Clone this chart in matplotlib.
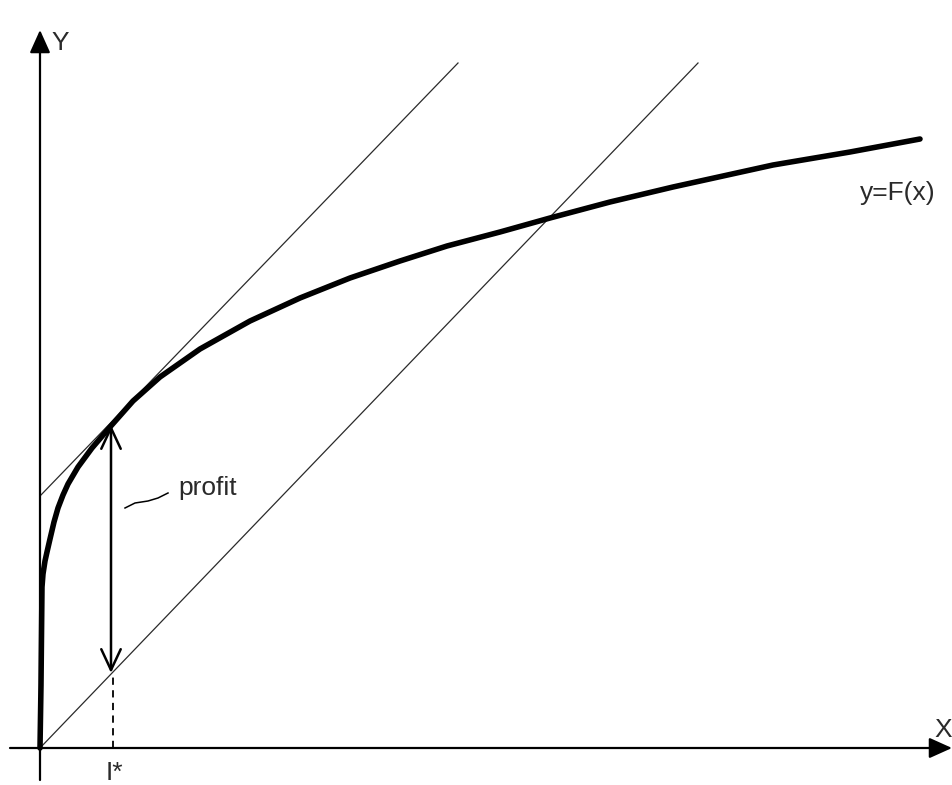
import numpy as np
import matplotlib
matplotlib.use('Agg')
import matplotlib.pyplot as plt

# curve y=F(x) (origin at the axes corner, pixel units)
curve_x = [0, 1, 2, 3, 5, 7, 10, 14, 18, 23, 28, 38, 52, 70, 93, 120, 160, 210, 260, 310, 360, 407, 460, 510, 570, 633, 733, 810, 880]
curve_y = [0, 63, 161, 174, 187, 196, 209, 226, 240, 253, 264, 281, 300, 321, 347, 371, 399, 427, 450, 470, 487, 502, 516, 530, 546, 561, 583, 596, 609]

# the two parallel straight lines
tangent_x = [0, 418]
tangent_y = [252, 685]
cost_x = [0, 658]
cost_y = [0, 685]

# optimum and profit arrow
i_star = 71
profit_low = 75
profit_high = 323

# leader from the word "profit" to the arrow
leader_x = [85, 95, 108, 118, 128]
leader_y = [240, 245, 247, 250, 255]

ink = '#2a2a2a'
plt.rcParams['font.family'] = ['Liberation Sans', 'DejaVu Sans']

fig = plt.figure(figsize=(9.53, 7.85), dpi=100)
ax = fig.add_axes([0, 0, 1, 1])
ax.set_xlim(-40, 913)
ax.set_ylim(-37, 748)
ax.axis('off')

# axes with arrows
axis_arrow = dict(arrowstyle='-|>,head_length=1.0,head_width=0.45', mutation_scale=14,
                  color='black', lw=1.6, shrinkA=0, shrinkB=0)
ax.annotate('', xy=(912, 0), xytext=(-30, 0), arrowprops=axis_arrow)
ax.annotate('', xy=(0, 718), xytext=(0, -32), arrowprops=axis_arrow)

# straight lines
ax.plot(tangent_x, tangent_y, color=ink, lw=0.9)
ax.plot(cost_x, cost_y, color=ink, lw=0.9)

# production curve
ax.plot(curve_x, curve_y, color='black', lw=4.0, solid_capstyle='round', solid_joinstyle='round')

# profit arrow
ax.annotate('', xy=(i_star, profit_high), xytext=(i_star, profit_low),
            arrowprops=dict(arrowstyle='<->,head_length=0.75,head_width=0.35', mutation_scale=20,
                            color='black', lw=1.8, shrinkA=0, shrinkB=0))
ax.plot([i_star + 2, i_star + 2], [0, profit_low], color='black', lw=1.3, ls=(0, (4, 3)))
ax.plot(leader_x, leader_y, color='black', lw=1.1)

# labels
fs = 19
ax.text(11, 698, 'Y', fontsize=fs, color=ink, ha='left', va='baseline')
ax.text(894, 11, 'X', fontsize=fs, color=ink, ha='left', va='baseline')
ax.text(66, -32, 'I*', fontsize=fs, color=ink, ha='left', va='baseline')
ax.text(820, 548, 'y=F(x)', fontsize=fs, color=ink, ha='left', va='baseline')
ax.text(138, 253, 'profit', fontsize=fs, color=ink, ha='left', va='baseline')

fig.savefig('out.png', dpi=100, facecolor='white')
